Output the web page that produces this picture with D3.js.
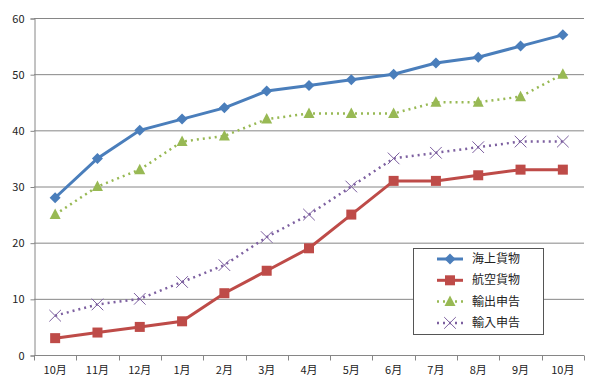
<!DOCTYPE html>
<html>
<head>
<meta charset="utf-8">
<script src="https://cdn.jsdelivr.net/npm/d3@7"></script>
<style>
  body { margin: 0; background: #fff; }
  text { font-family: "Noto Sans CJK JP", "Noto Sans", sans-serif; fill: #222; }
</style>
</head>
<body>
<script>
// chart data
var months = ["10月", "11月", "12月", "1月", "2月", "3月", "4月", "5月", "6月", "7月", "8月", "9月", "10月"];
var kaijo = [28, 35, 40, 42, 44, 47, 48, 49, 50, 52, 53, 55, 57];
var koku = [3, 4, 5, 6, 11, 15, 19, 25, 31, 31, 32, 33, 33];
var yushutsu = [25, 30, 33, 38, 39, 42, 43, 43, 43, 45, 45, 46, 50];
var yunyu = [7, 9, 10, 13, 16, 21, 25, 30, 35, 36, 37, 38, 38];
var yTicks = [0, 10, 20, 30, 40, 50, 60];

var series = [
    { name: "海上貨物", values: kaijo, color: "#4a7ebb", dash: null, width: 3, marker: "diamond" },
    { name: "航空貨物", values: koku, color: "#be4b48", dash: null, width: 3, marker: "square" },
    { name: "輸出申告", values: yushutsu, color: "#98b954", dash: "2,4", width: 2.5, marker: "triangle" },
    { name: "輸入申告", values: yunyu, color: "#7d60a0", dash: "2,4", width: 2.5, marker: "cross" }
];

var W = 600, H = 380;
var margin = { top: 18, right: 16, bottom: 25, left: 34 };
var width = W - margin.left - margin.right,
    height = H - margin.top - margin.bottom;

var svg = d3.select("body").append("svg")
    .attr("width", W)
    .attr("height", H);

var g = svg.append("g")
    .attr("transform", "translate(" + margin.left + "," + margin.top + ")");

var x = d3.scaleBand().domain(d3.range(months.length)).range([0, width]);
var y = d3.scaleLinear().domain([0, 60]).range([height, 0]);

// gridlines
g.selectAll(".grid")
    .data(yTicks.slice(1))
    .enter().append("line")
    .attr("x1", 0).attr("x2", width)
    .attr("y1", function (d) { return y(d) + 0.5; })
    .attr("y2", function (d) { return y(d) + 0.5; })
    .attr("stroke", "#868686");

// y axis
var yAxis = g.append("g")
    .attr("transform", "translate(0.5,0.5)")
    .call(d3.axisLeft(y).tickValues(yTicks).tickSize(4).tickPadding(6));
yAxis.select(".domain").attr("stroke", "#868686");
yAxis.selectAll(".tick line").attr("stroke", "#868686");
yAxis.selectAll("text").style("font-size", "11px").attr("fill", "#222");

// x axis, ticks between categories
var xAxis = g.append("g")
    .attr("transform", "translate(0," + (height + 0.5) + ")");
xAxis.append("line")
    .attr("x1", 0).attr("x2", width)
    .attr("stroke", "#868686");
xAxis.selectAll(".xtick")
    .data(d3.range(months.length + 1))
    .enter().append("line")
    .attr("x1", function (d) { return Math.round(d * x.step()) + 0.5; })
    .attr("x2", function (d) { return Math.round(d * x.step()) + 0.5; })
    .attr("y1", 0).attr("y2", 5)
    .attr("stroke", "#868686");
xAxis.selectAll(".xlabel")
    .data(months)
    .enter().append("text")
    .attr("x", function (d, i) { return x(i) + x.bandwidth() / 2; })
    .attr("y", 18)
    .attr("text-anchor", "middle")
    .style("font-size", "11px")
    .text(function (d) { return d; });

var cx = function (i) { return x(i) + x.bandwidth() / 2; };

var line = d3.line()
    .x(function (d, i) { return cx(i); })
    .y(function (d) { return y(d); });

function drawMarker(sel, s, px, py) {
    if (s.marker === "diamond") {
        // square diamond, equal width and height
        sel.append("path")
            .attr("d", "M0,-5.5L5.5,0L0,5.5L-5.5,0Z")
            .attr("transform", "translate(" + px + "," + py + ")")
            .attr("fill", s.color);
    } else if (s.marker === "square") {
        sel.append("rect")
            .attr("x", px - 5).attr("y", py - 5)
            .attr("width", 10).attr("height", 10)
            .attr("fill", s.color);
    } else if (s.marker === "triangle") {
        sel.append("path")
            .attr("d", "M0,-6L5.5,4.5L-5.5,4.5Z")
            .attr("transform", "translate(" + px + "," + py + ")")
            .attr("fill", s.color);
    } else {
        sel.append("path")
            .attr("d", d3.symbol().type(d3.symbolX).size(90))
            .attr("transform", "translate(" + px + "," + py + ")")
            .attr("fill", "none")
            .attr("stroke", s.color)
            .attr("stroke-width", 1);
    }
}

series.forEach(function (s) {
    var sg = g.append("g");
    sg.append("path")
        .datum(s.values)
        .attr("fill", "none")
        .attr("stroke", s.color)
        .attr("stroke-width", s.width)
        .attr("stroke-dasharray", s.dash)
        .attr("d", line);
    s.values.forEach(function (v, i) {
        drawMarker(sg, s, cx(i), y(v));
    });
});

// legend
var lg = svg.append("g").attr("transform", "translate(413,248)");
lg.append("rect")
    .attr("x", 0.5).attr("y", 0.5)
    .attr("width", 130).attr("height", 86)
    .attr("fill", "#fff")
    .attr("stroke", "#555");
series.forEach(function (s, i) {
    var ly = 11 + i * 21.3;
    lg.append("line")
        .attr("x1", 24).attr("x2", 50)
        .attr("y1", ly).attr("y2", ly)
        .attr("stroke", s.color)
        .attr("stroke-width", s.width)
        .attr("stroke-dasharray", s.dash);
    drawMarker(lg, s, 37, ly);
    lg.append("text")
        .attr("x", 59).attr("y", ly + 4)
        .style("font-size", "12px")
        .text(s.name);
});
</script>
</body>
</html>
